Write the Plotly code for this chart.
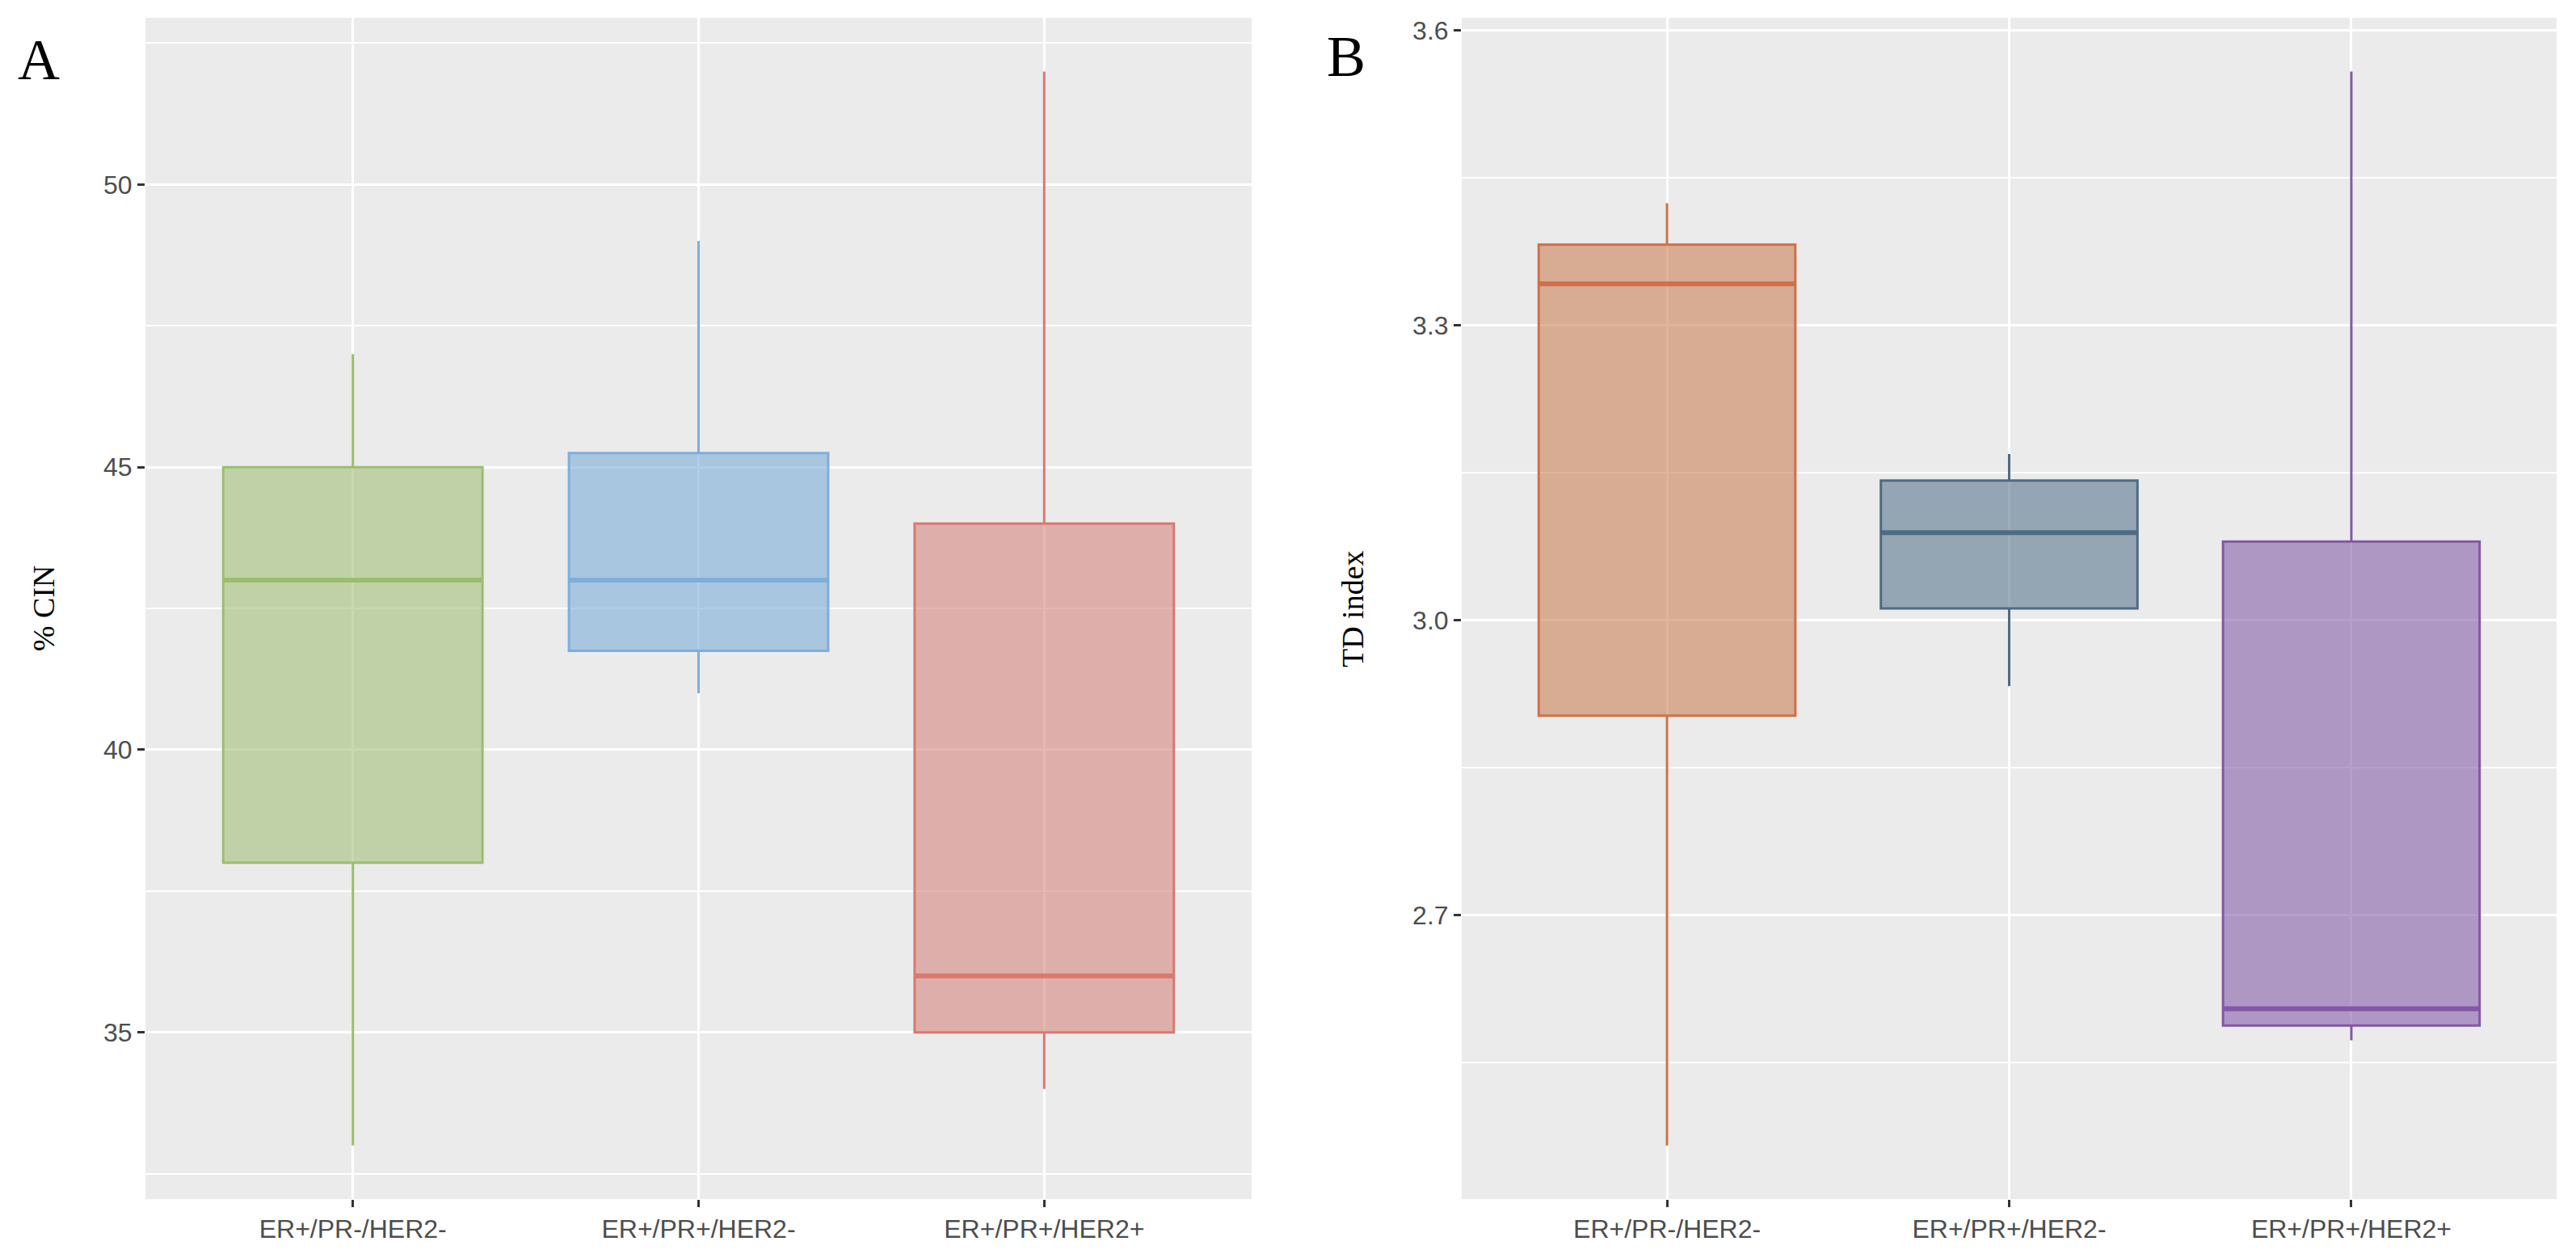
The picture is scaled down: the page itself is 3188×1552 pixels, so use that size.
import plotly.graph_objects as go

# ---------------- data ----------------
categories = ["ER+/PR-/HER2-", "ER+/PR+/HER2-", "ER+/PR+/HER2+"]

# Panel A: % CIN
cin_lower = [33.0, 41.0, 34.0]
cin_q1 = [38.0, 41.75, 35.0]
cin_median = [43.0, 43.0, 36.0]
cin_q3 = [45.0, 45.25, 44.0]
cin_upper = [47.0, 49.0, 52.0]
cin_ticks = [35, 40, 45, 50]
cin_minor = [32.5, 37.5, 42.5, 47.5, 52.5]

# Panel B: TD index
td_lower = [2.466, 2.933, 2.573]
td_q1 = [2.903, 3.012, 2.588]
td_median = [3.342, 3.089, 2.605]
td_q3 = [3.382, 3.142, 3.080]
td_upper = [3.424, 3.169, 3.558]
td_ticks = [2.7, 3.0, 3.3, 3.6]
td_tick_text = ["2.7", "3.0", "3.3", "3.6"]
td_minor = [2.55, 2.85, 3.15, 3.45]

# ---------------- styles ----------------
cin_line = ["#9CBD70", "#7EAEDB", "#D9796F"]
cin_fill = ["rgba(163,192,122,0.6)", "rgba(125,173,217,0.6)", "rgba(212,133,127,0.6)"]
td_line = ["#CF7048", "#4F6B83", "#8257A6"]
td_fill = ["rgba(203,128,88,0.6)", "rgba(90,120,143,0.6)", "rgba(133,95,167,0.6)"]

W, H = 3188, 1552
BOX_W = 0.75
positions = [1, 2, 3]

fig = go.Figure()


def add_panel(xref, yref, lower, q1, med, q3, upper, lines, fills):
    for i, p in enumerate(positions):
        fig.add_trace(go.Box(
            x=[p], lowerfence=[lower[i]], q1=[q1[i]], median=[med[i]],
            q3=[q3[i]], upperfence=[upper[i]],
            width=BOX_W, fillcolor=fills[i],
            line=dict(color=lines[i], width=3),
            whiskerwidth=0, boxpoints=False, hoverinfo="skip",
            showlegend=False, xaxis=xref, yaxis=yref,
        ))
        # thicker median line (ggplot fatten)
        fig.add_trace(go.Scatter(
            x=[p - BOX_W / 2, p + BOX_W / 2], y=[med[i], med[i]],
            mode="lines", line=dict(color=lines[i], width=6),
            hoverinfo="skip", showlegend=False, xaxis=xref, yaxis=yref,
        ))


add_panel("x", "y", cin_lower, cin_q1, cin_median, cin_q3, cin_upper, cin_line, cin_fill)
add_panel("x2", "y2", td_lower, td_q1, td_median, td_q3, td_upper, td_line, td_fill)


def yrange(lo_list, hi_list):
    lo, hi = min(lo_list), max(hi_list)
    pad = 0.05 * (hi - lo)
    return [lo - pad, hi + pad]


tick_font = dict(family="Liberation Sans, Arial, sans-serif", size=32, color="#4D4D4D")

xax = dict(
    range=[0.4, 3.6], tickmode="array", tickvals=positions, ticktext=categories,
    showgrid=True, gridcolor="white", gridwidth=3, zeroline=False, showline=False,
    ticks="outside", ticklen=9, tickwidth=3, tickcolor="#333333",
    tickfont=tick_font, fixedrange=True,
)
yax = dict(
    showgrid=True, gridcolor="white", gridwidth=3, zeroline=False, showline=False,
    ticks="outside", ticklen=9, tickwidth=3, tickcolor="#333333",
    tickfont=tick_font, fixedrange=True,
)

y_top = 1 - 12 / H
y_bot = 1 - 1476 / H

fig.update_layout(
    width=W, height=H,
    margin=dict(l=0, r=0, t=0, b=0),
    paper_bgcolor="white", plot_bgcolor="#EBEBEB",
    boxmode="overlay",
    xaxis=dict(xax, domain=[172 / W, 1541 / W], anchor="y"),
    yaxis=dict(yax, domain=[y_bot, y_top], anchor="x",
               range=yrange(cin_lower, cin_upper), tickmode="array", tickvals=cin_ticks,
               minor=dict(tickmode="array", tickvals=cin_minor, showgrid=True,
                          gridcolor="white", gridwidth=1.5, ticks="")),
    xaxis2=dict(xax, domain=[1801 / W, 3156 / W], anchor="y2"),
    yaxis2=dict(yax, domain=[y_bot, y_top], anchor="x2",
                range=yrange(td_lower, td_upper), tickmode="array", tickvals=td_ticks,
                ticktext=td_tick_text,
                minor=dict(tickmode="array", tickvals=td_minor, showgrid=True,
                           gridcolor="white", gridwidth=1.5, ticks="")),
)

serif = "Liberation Serif, Times New Roman, serif"
mid_y = (y_top + y_bot) / 2
annotations = [
    dict(text="A", x=12 / W, y=1 - 64 / H, xanchor="left", yanchor="middle",
         font=dict(family=serif, size=72, color="black")),
    dict(text="B", x=1632 / W, y=1 - 60 / H, xanchor="left", yanchor="middle",
         font=dict(family=serif, size=72, color="black")),
    dict(text="% CIN", x=46 / W, y=mid_y, xanchor="center", yanchor="middle",
         textangle=-90, font=dict(family=serif, size=38, color="black")),
    dict(text="TD index", x=1666 / W, y=mid_y, xanchor="center", yanchor="middle",
         textangle=-90, font=dict(family=serif, size=38, color="black")),
]
for a in annotations:
    a.update(xref="paper", yref="paper", showarrow=False)
fig.update_layout(annotations=annotations)

fig.write_html("out.html")
